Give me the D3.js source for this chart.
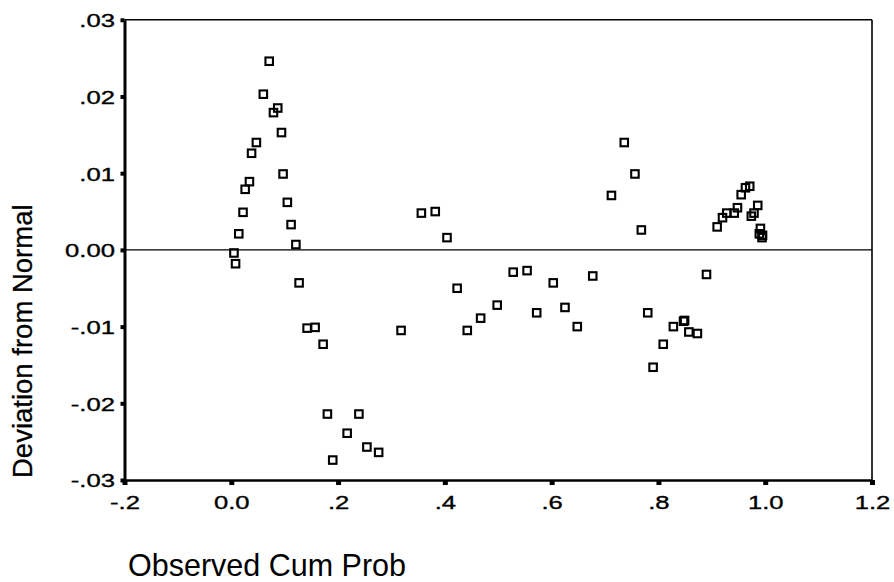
<!DOCTYPE html>
<html>
<head>
  <meta charset="utf-8">
  <title>Detrended Normal P-P Plot</title>
  <script src="https://d3js.org/d3.v7.min.js"></script>
  <style>
    body { margin: 0; background: #fff; }
    text { font-family: "Liberation Sans", Arial, sans-serif; fill: #000; }
  </style>
</head>
<body>
  <svg width="894" height="582"></svg>
  <script>
    // Observed cumulative probability (x) and deviation from normal (y)
    const obsCumProb = [
      0.005, 0.008, 0.014, 0.022, 0.026, 0.034, 0.038, 0.047, 0.060, 0.071,
      0.079, 0.087, 0.094, 0.097, 0.105, 0.112, 0.121, 0.127, 0.142, 0.157,
      0.172, 0.180, 0.190, 0.217, 0.239, 0.254, 0.276, 0.318, 0.356, 0.382,
      0.404, 0.423, 0.442, 0.467, 0.498, 0.528, 0.554, 0.572, 0.603, 0.625,
      0.648, 0.677, 0.712, 0.736, 0.756, 0.768, 0.780, 0.790, 0.809, 0.828,
      0.847, 0.849, 0.857, 0.873, 0.890, 0.910, 0.920, 0.928, 0.942, 0.948,
      0.955, 0.963, 0.971, 0.974, 0.979, 0.986, 0.989, 0.991, 0.994, 0.995
    ];
    const deviation = [
      -0.0004, -0.0018, 0.0021, 0.0049, 0.0079, 0.0089, 0.0126, 0.0140, 0.0203, 0.0246,
      0.0179, 0.0185, 0.0153, 0.0099, 0.0062, 0.0033, 0.0007, -0.0043, -0.0102, -0.0101,
      -0.0123, -0.0214, -0.0274, -0.0239, -0.0214, -0.0257, -0.0264, -0.0105, 0.0048, 0.0050,
      0.0016, -0.0050, -0.0105, -0.0089, -0.0072, -0.0029, -0.0027, -0.0082, -0.0043, -0.0075,
      -0.0100, -0.0034, 0.0071, 0.0140, 0.0099, 0.0026, -0.0082, -0.0153, -0.0123, -0.0100,
      -0.0093, -0.0092, -0.0107, -0.0109, -0.0032, 0.0030, 0.0042, 0.0048, 0.0048, 0.0055,
      0.0072, 0.0081, 0.0083, 0.0044, 0.0048, 0.0058, 0.0021, 0.0028, 0.0016, 0.0019
    ];

    const xTicks = [-0.2, 0, 0.2, 0.4, 0.6, 0.8, 1.0, 1.2];
    const xTickLabels = ["-.2", "0.0", ".2", ".4", ".6", ".8", "1.0", "1.2"];
    const yTicks = [0.03, 0.02, 0.01, 0, -0.01, -0.02, -0.03];
    const yTickLabels = [".03", ".02", ".01", "0.00", "-.01", "-.02", "-.03"];

    const xTitle = "Observed Cum Prob";
    const yTitle = "Deviation from Normal";

    const svg = d3.select("svg");
    const plotLeft = 124.5, plotRight = 872, plotTop = 19.8, plotBottom = 480;

    const x = d3.scaleLinear().domain([-0.2, 1.2]).range([plotLeft, plotRight]);
    const y = d3.scaleLinear().domain([-0.03, 0.03]).range([plotBottom, plotTop]);

    const stretch = 1.35; // tick labels are drawn wide in the original

    // frame: thin top and right sides
    svg.append("line").attr("x1", plotLeft).attr("x2", plotRight).attr("y1", plotTop).attr("y2", plotTop)
      .attr("stroke", "#000").attr("stroke-width", 1.6);
    svg.append("line").attr("x1", plotRight).attr("x2", plotRight).attr("y1", plotTop).attr("y2", plotBottom)
      .attr("stroke", "#000").attr("stroke-width", 1.6);

    // reference line at zero
    svg.append("line").attr("x1", plotLeft).attr("x2", plotRight).attr("y1", y(0)).attr("y2", y(0))
      .attr("stroke", "#000").attr("stroke-width", 1.4);

    // y axis
    const yAxis = svg.append("g")
      .attr("transform", `translate(${plotLeft},0)`)
      .call(d3.axisLeft(y).tickValues(yTicks)
        .tickFormat((d, i) => yTickLabels[i]).tickSize(4).tickSizeOuter(0));
    yAxis.select(".domain").attr("stroke-width", 3);
    yAxis.selectAll(".tick line").attr("stroke-width", 4);
    yAxis.selectAll(".tick text")
      .attr("font-size", 19)
      .attr("x", -9.5 / stretch)
      .attr("dy", "0.36em")
      .attr("stroke", "#000").attr("stroke-width", 0.35)
      .attr("transform", `scale(${stretch},1)`);

    // x axis
    const xAxis = svg.append("g")
      .attr("transform", `translate(0,${plotBottom})`)
      .call(d3.axisBottom(x).tickValues(xTicks)
        .tickFormat((d, i) => xTickLabels[i]).tickSize(5).tickSizeOuter(0));
    xAxis.select(".domain").attr("stroke-width", 2.6);
    xAxis.selectAll(".tick line").attr("stroke-width", 5);
    // scale the label in place so it stays centred on its tick
    xAxis.selectAll(".tick text")
      .attr("font-size", 19)
      .attr("y", 29.5)
      .attr("dy", 0)
      .attr("stroke", "#000").attr("stroke-width", 0.35)
      .attr("transform", `scale(${stretch},1)`);

    // axis titles
    svg.append("text")
      .attr("x", 128).attr("y", 576)
      .attr("font-size", 30.5)
      .text(xTitle);

    svg.append("text")
      .attr("transform", "translate(32,478) rotate(-90)")
      .attr("font-size", 27.5)
      .attr("stroke", "#000").attr("stroke-width", 0.3)
      .text(yTitle);

    // open square markers
    const pts = obsCumProb.map((v, i) => ({ p: v, d: deviation[i] }));
    const s = 7.5;
    svg.append("g").selectAll("rect")
      .data(pts)
      .enter()
      .append("rect")
      .attr("x", d => x(d.p) - s / 2)
      .attr("y", d => y(d.d) - s / 2)
      .attr("width", s)
      .attr("height", s)
      .attr("fill", "none")
      .attr("stroke", "#000")
      .attr("stroke-width", 2.1);
  </script>
</body>
</html>
